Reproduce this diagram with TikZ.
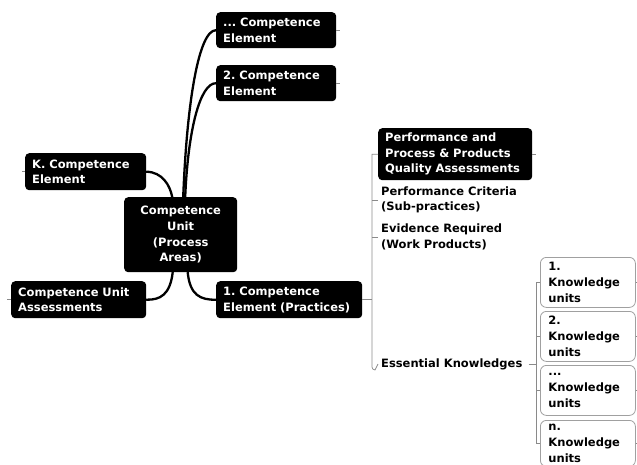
\documentclass[tikz,border=0pt]{standalone}
\usepackage{fontspec}
\setmainfont{DejaVu Sans}
\usetikzlibrary{calc}
\frenchspacing

\definecolor{branchgray}{HTML}{8A8A8A}
\definecolor{boxgray}{HTML}{A0A0A0}

\tikzset{
  txt/.style={font=\fontsize{11.5}{15.6}\selectfont\bfseries},
  topic/.style={txt, anchor=north west, fill=black, text=white,
    rounded corners=4pt, inner xsep=7pt, inner ysep=2pt, align=left},
  leaf/.style={txt, anchor=west, inner sep=3pt, align=left, text=black},
  unitbox/.style={txt, anchor=north west, fill=white, draw=boxgray,
    line width=0.8pt, rounded corners=6pt, inner xsep=8pt, inner ysep=1pt,
    align=left, text width=79pt, minimum height=50pt},
  trunk/.style={line width=2.3pt, line cap=round},
  br/.style={draw=branchgray, line width=0.7pt},
  stub/.style={draw=branchgray, line width=0.6pt},
}

\begin{document}
\begin{tikzpicture}[x=1pt, y=-1pt]
  \path[use as bounding box, clip] (0,0) rectangle (637,464);

  % central topic and main branches
  \node[topic, align=center, text width=99pt, minimum height=75pt] (c) at (124,197)
    {Competence\\Unit\\(Process\\Areas)};
  \node[topic, text width=106pt, minimum height=36pt] (dots) at (216,12)
    {... Competence\\Element};
  \node[topic, text width=106pt, minimum height=36pt] (two) at (216,65)
    {2. Competence\\Element};
  \node[topic, text width=107pt, minimum height=37pt] (k) at (25,153)
    {K. Competence\\Element};
  \node[topic, text width=121pt, minimum height=37pt] (assess) at (11,281)
    {Competence Unit\\Assessments};
  \node[topic, text width=132pt, minimum height=37pt] (one) at (216,281)
    {1. Competence\\\mbox{Element (Practices)}};

  % curved connectors from the central topic
  \draw[trunk] ([xshift=2.5pt]c.north) .. controls (187,100) and (199,30) .. (dots.west);
  \draw[trunk] ([xshift=4.5pt]c.north) .. controls (188,130) and (200,83) .. (two.west);
  \draw[trunk] (k.east) .. controls (162,172) and (170,185) .. ([xshift=-8.5pt]c.north);
  \draw[trunk] ([xshift=-8pt]c.south) .. controls (170,295) and (160,300) .. (assess.east);
  \draw[trunk] ([xshift=7pt]c.south) .. controls (190,295) and (200,300) .. (one.west);

  % sub-topics of the first competence element
  \node[topic, text width=140pt, minimum height=52pt] (perf) at (378,128)
    {Performance and\\Process \& Products\\\mbox{Quality Assessments}};
  \node[leaf] (crit) at (378,200) {Performance Criteria\\(Sub-practices)};
  \node[leaf] (evid) at (378,237) {Evidence Required\\(Work Products)};
  \node[leaf] (ess) at (378,364) {Essential Knowledges};

  \coordinate (bt) at ([xshift=-6pt]perf.west);
  \draw[br] (perf.west) -- (bt) -- ([yshift=-3pt]bt |- ess.west)
    arc[start angle=180, end angle=270, radius=3pt] -- (ess.west);
  \draw[br] (crit.west) -- (bt |- crit.west);
  \draw[br] (evid.west) -- (bt |- evid.west);
  \draw[br] (one.east) -- (bt |- one.east);

  % knowledge units (the last one runs past the lower edge)
  \node[unitbox] (ku1) at (540,257) {1.\\Knowledge\\units};
  \node[unitbox] (ku2) at (540,311) {2.\\Knowledge\\units};
  \node[unitbox] (ku3) at (540,365) {...\\Knowledge\\units};
  \node[unitbox, minimum height=46pt] (ku4) at (540,420) {n.\\Knowledge\\units};

  \coordinate (kt) at ([xshift=-4pt]ku1.west);
  \draw[br] (ku1.west) -- (kt) -- (kt |- ku4.west) -- (ku4.west);
  \draw[br] (ku2.west) -- (kt |- ku2.west);
  \draw[br] (ku3.west) -- (kt |- ku3.west);
  \draw[br] ([xshift=3pt]ess.east) -- (kt |- ess.east);

  % collapsed-branch markers
  \draw[stub] (dots.east) -- ++(4,0);
  \draw[stub] (two.east) -- ++(4,0);
  \draw[stub] (perf.east) -- ++(4,0);
  \draw[stub] (k.west) -- ++(-3,0);
  \draw[stub] (assess.west) -- ++(-4,0);
  \foreach \u in {ku1,ku2,ku3,ku4} \draw[stub] (\u.east) -- ++(3,0);
\end{tikzpicture}
\end{document}
